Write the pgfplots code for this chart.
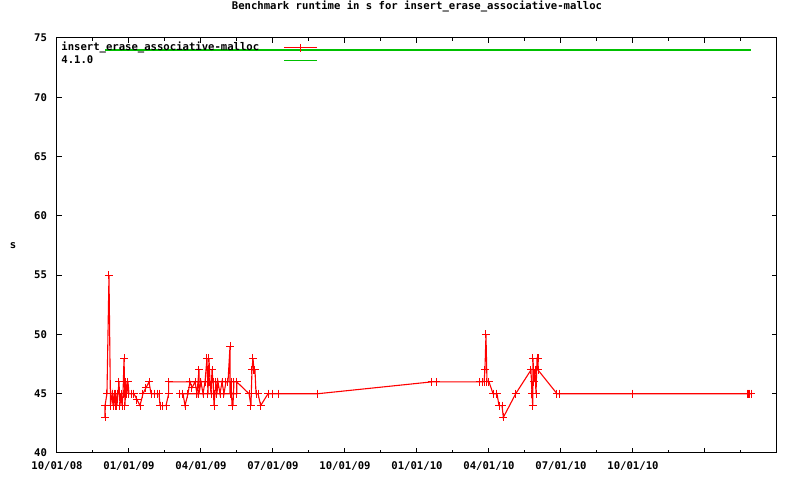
\documentclass[border=0pt]{standalone}
\usepackage{fontspec}
\setmainfont{DejaVu Sans Mono}
\usepackage{pgfplots}
\pgfplotsset{compat=1.18}
\definecolor{gpred}{RGB}{255,0,0}
\definecolor{gpgreen}{RGB}{0,192,0}
\newcommand{\gpfont}{\fontsize{5.3}{6}\selectfont\bfseries}
\pgfplotsset{
  gplegend/.style={legend image code/.code={%
    \draw[mark repeat=2,mark phase=2,##1] plot coordinates {(0pt,0pt) (8.25pt,0pt) (16.5pt,0pt)};}}
}
\begin{document}
\begin{tikzpicture}
\useasboundingbox (-28.5pt,-13.5pt) rectangle (371.5pt,226.5pt);
\begin{axis}[
  at={(0,0)}, anchor=south west,
  scale only axis, width=360pt, height=207.5pt,
  xmin=0, xmax=10, ymin=40, ymax=75,
  xtick={0,1,2,3,4,5,6,7,8,9,10},
  xticklabels={10/01/08,01/01/09,04/01/09,07/01/09,10/01/09,01/01/10,04/01/10,07/01/10,10/01/10,,},
  minor x tick num=1,
  ytick={40,45,50,55,60,65,70,75},
  tick align=inside,
  major tick length=2.5pt, minor tick length=1.3pt,
  every tick/.style={black, line width=0.5pt},
  axis line style={black, line width=0.5pt},
  font=\gpfont,
  tick label style={font=\gpfont},
  /pgf/number format/assume math mode=true,
  yticklabel style={xshift=-1.5pt},
  xticklabel style={yshift=-1pt},
  title={Benchmark runtime in s for insert\_erase\_associative-malloc},
  title style={yshift=3.5pt, font=\gpfont},
  ylabel={s},
  ylabel style={rotate=-90, at={(rel axis cs:0,0.5)}, anchor=center, xshift=-22pt, font=\gpfont},
  legend style={at={(rel axis cs:0,1)}, anchor=north west, xshift=1pt, yshift=-1.2pt,
    draw=none, fill=none, inner sep=0.5pt, font=\gpfont,
    nodes={inner sep=0.5pt, text height=4pt, text depth=1pt, fill=none},
    row sep=0.3pt, column sep=11.5pt},
  legend cell align=left,
  legend plot pos=right,
  gplegend,
]
\addplot[draw=gpred, color=gpred, line width=0.55pt, mark=+, mark size=2pt, mark options={solid, line width=0.5pt, draw=gpred}] coordinates {
(0.667,43) (0.667,44) (0.694,45) (0.722,55) (0.743,44) (0.764,45) (0.778,44) (0.792,45)
(0.806,44) (0.819,45) (0.833,44) (0.847,45) (0.861,46) (0.875,44) (0.889,45) (0.903,44)
(0.917,45) (0.931,48) (0.944,44) (0.958,46) (0.972,45) (0.986,46) (1.000,45) (1.028,45)
(1.069,45) (1.111,44.5) (1.153,44) (1.194,45) (1.236,45.5) (1.278,46) (1.306,45) (1.361,45)
(1.389,45) (1.417,45) (1.431,44) (1.472,44) (1.514,44) (1.551,45) (1.551,46) (2.496,46)
(2.496,45) (1.708,45) (1.750,45) (1.778,44) (1.819,45) (1.847,46) (1.875,45.5) (1.917,46)
(1.944,45) (1.972,47) (1.972,45) (2.000,46) (2.028,45) (2.056,46) (2.083,48) (2.097,45)
(2.111,48) (2.125,46) (2.139,45) (2.153,47) (2.167,46) (2.181,44) (2.194,45) (2.208,46)
(2.222,45) (2.236,46) (2.264,45) (2.292,46) (2.319,45) (2.347,46) (2.375,46) (2.403,49)
(2.403,45) (2.417,46) (2.431,44) (2.444,44) (2.458,46) (2.496,46) (2.667,45) (2.694,44)
(2.708,47) (2.722,48) (2.736,47) (2.750,47) (2.764,45) (2.792,45) (2.829,44) (2.931,45)
(3.000,45) (3.083,45) (3.625,45) (5.208,46) (5.264,46) (5.875,46) (5.903,46) (5.931,46)
(5.944,47) (5.958,50) (5.972,46) (6.000,46) (6.056,45) (6.111,45) (6.139,44) (6.181,44)
(6.199,43) (6.371,45) (6.583,47) (6.597,45) (6.607,44) (6.611,48) (6.625,46) (6.639,47)
(6.653,45) (6.667,48) (6.681,48) (6.681,47) (6.944,45) (6.986,45) (8.000,45) (9.597,45)
(9.611,45) (9.625,45) (9.639,45)
};
\addlegendentry{insert\_erase\_associative-malloc}
\addplot[draw=gpgreen, color=gpgreen, line width=0.8pt, no marks] coordinates {
(0.667,74) (9.639,74)
};
\addlegendentry{4.1.0}
\end{axis}
\end{tikzpicture}
\end{document}
